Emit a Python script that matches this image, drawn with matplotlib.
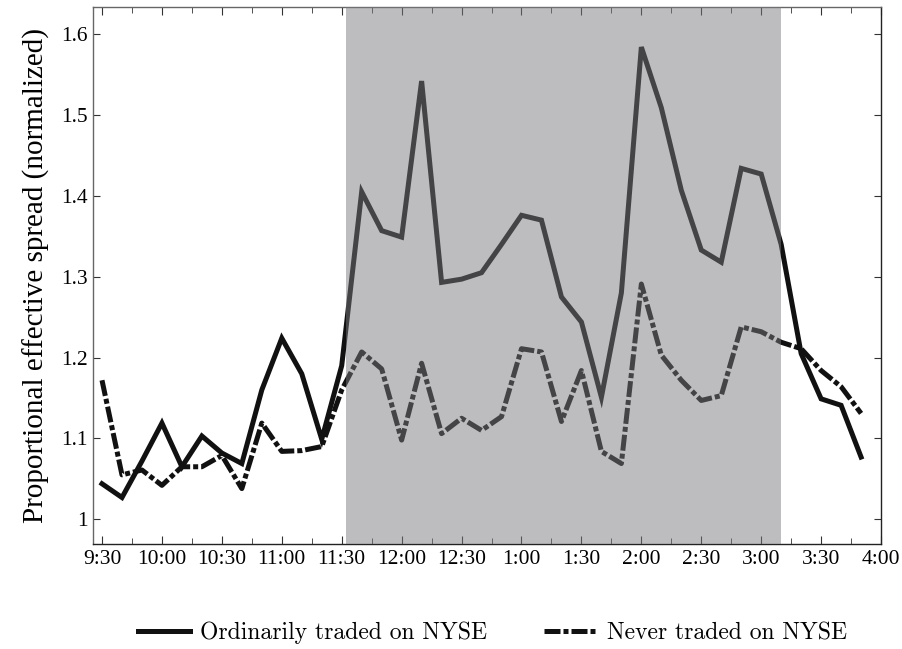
import matplotlib
matplotlib.use("Agg")
import matplotlib.pyplot as plt
from matplotlib.patches import Rectangle

# minutes after 9:30, every 10 minutes
minutes = list(range(0, 390, 10))
ordinary = [1.044, 1.027, 1.072, 1.119, 1.065, 1.103, 1.082, 1.069, 1.160, 1.224,
            1.180, 1.099, 1.190, 1.405, 1.357, 1.349, 1.542, 1.293, 1.297, 1.305,
            1.340, 1.376, 1.370, 1.275, 1.244, 1.151, 1.280, 1.584, 1.509, 1.407,
            1.333, 1.318, 1.434, 1.427, 1.340, 1.205, 1.149, 1.141, 1.077]
never = [1.172, 1.055, 1.061, 1.042, 1.065, 1.065, 1.079, 1.038, 1.119, 1.084,
         1.085, 1.090, 1.160, 1.207, 1.186, 1.098, 1.193, 1.106, 1.125, 1.110,
         1.127, 1.211, 1.207, 1.121, 1.184, 1.084, 1.069, 1.291, 1.203, 1.172,
         1.147, 1.153, 1.238, 1.232, 1.219, 1.211, 1.184, 1.164, 1.131]
tick_minutes = list(range(0, 391, 30))
tick_labels = ["9:30", "10:00", "10:30", "11:00", "11:30", "12:00", "12:30",
               "1:00", "1:30", "2:00", "2:30", "3:00", "3:30", "4:00"]
y_ticks = [1.0, 1.1, 1.2, 1.3, 1.4, 1.5, 1.6]
y_labels = ["1", "1.1", "1.2", "1.3", "1.4", "1.5", "1.6"]
shade_start, shade_end = 122, 340

serif = ['Liberation Serif', 'DejaVu Serif']
legend_font = ['cmr10', 'Liberation Serif', 'DejaVu Serif']
plt.rcParams['font.family'] = serif

fig = plt.figure(figsize=(9.03, 6.49), dpi=100)
ax = fig.add_axes([0.103, 0.1618, 0.8727, 0.8267])

l1, = ax.plot(minutes, ordinary, color='#111111', lw=3.6, solid_joinstyle='miter',
              label='Ordinarily traded on NYSE', zorder=2)
l2, = ax.plot(minutes, never, color='#111111', lw=3.6, linestyle=(0, (3.2, 0.6, 1.0, 0.6)),
              label='Never traded on NYSE', zorder=2)

ax.add_patch(Rectangle((shade_start, 0.9), shade_end - shade_start, 1.0,
                       facecolor=(0.48, 0.48, 0.50), alpha=0.49, edgecolor='none', zorder=3))

ax.set_xlim(-4.5, 390)
ax.set_ylim(0.9695, 1.633)
ax.set_xticks(tick_minutes)
ax.set_xticklabels(tick_labels, fontsize=15.5)
ax.set_xticks(list(range(15, 390, 30)), minor=True)
ax.set_yticks(y_ticks)
ax.set_yticklabels(y_labels, fontsize=15.5)
ax.tick_params(which='both', direction='in', top=True, right=True, color='#333333')
ax.tick_params(which='major', length=6)
ax.tick_params(which='minor', length=4)
ax.tick_params(axis='y', which='major', length=5, pad=4)
ax.tick_params(axis='x', which='major', pad=4)
for s in ax.spines.values():
    s.set_color('#666666')
    s.set_linewidth(1.0)
ax.spines['right'].set_color('#222222')
ax.spines['bottom'].set_color('#222222')

ax.set_ylabel('Proportional effective spread (normalized)', fontsize=21, labelpad=8)

fig.legend(handles=[l1, l2], loc='center', bbox_to_anchor=(0.545, 0.025), ncol=2,
           frameon=False, prop={'family': legend_font, 'size': 17},
           handlelength=2.2, columnspacing=2.4, handletextpad=0.45)

fig.savefig('out.png', dpi=100)
